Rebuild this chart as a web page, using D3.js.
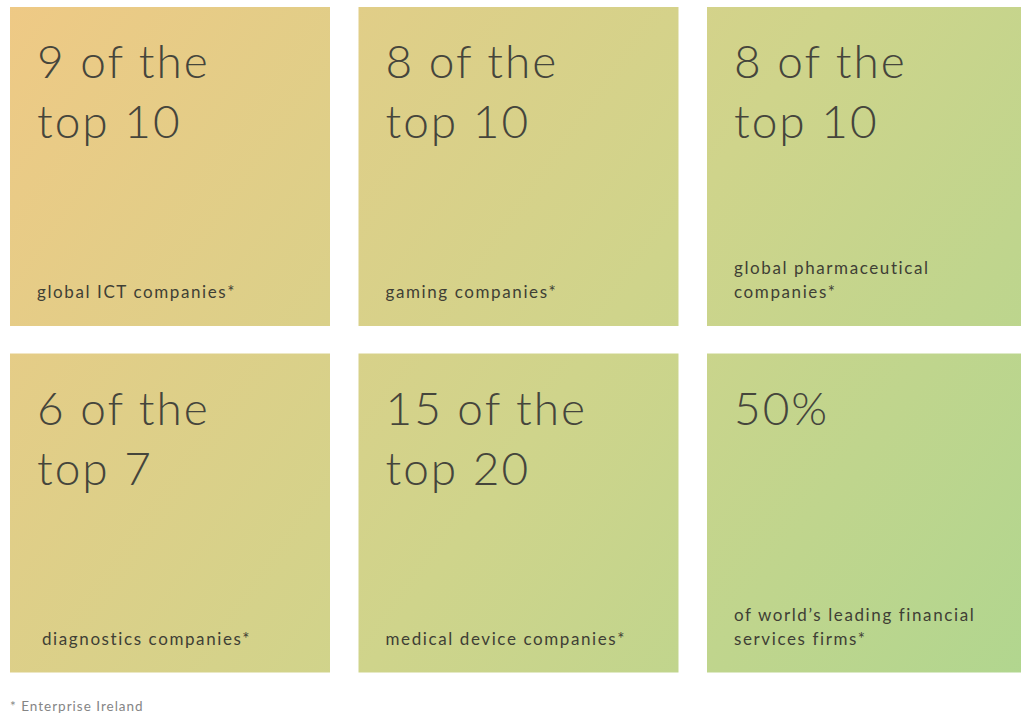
<html>
  <head>
    <script src="https://d3js.org/d3.v7.min.js"></script>
    <style>
      body { margin: 0; background: #ffffff; }
    </style>
  </head>
  <body>
    <div id="vis"></div>
    <script>
      // Tile data
      var headTop = ["9 of the", "8 of the", "8 of the", "6 of the", "15 of the", "50%"];
      var headBottom = ["top 10", "top 10", "top 10", "top 7", "top 20", ""];
      var labels = [
        ["global ICT companies*"],
        ["gaming companies*"],
        ["global pharmaceutical", "companies*"],
        ["diagnostics companies*"],
        ["medical device companies*"],
        ["of world\u2019s leading financial", "services firms*"]
      ];
      var footnote = "* Enterprise Ireland";

      var width = 1021;
      var height = 715;

      var svg = d3
        .select("#vis")
        .append("svg")
        .attr("width", width)
        .attr("height", height);

      // Background gradient running across the whole grid
      var grad = svg
        .append("defs")
        .append("linearGradient")
        .attr("id", "tileGrad")
        .attr("gradientUnits", "userSpaceOnUse")
        .attr("x1", 0)
        .attr("y1", 0)
        .attr("x2", 1021)
        .attr("y2", 715);
      grad.append("stop").attr("offset", "0%").attr("stop-color", "#efc985");
      grad.append("stop").attr("offset", "55%").attr("stop-color", "#cfd48b");
      grad.append("stop").attr("offset", "100%").attr("stop-color", "#b0d68f");

      // Grid scales
      var x = d3.scaleBand().domain([0, 1, 2]).range([10, 1027]).paddingInner(0.0818);
      var y = d3.scaleBand().domain([0, 1]).range([7, 672.5]).paddingInner(0.0794);

      var tiles = d3.range(headTop.length).map(function (i) {
        return {
          col: i % 3,
          row: Math.floor(i / 3),
          top: headTop[i],
          bottom: headBottom[i],
          label: labels[i]
        };
      });

      var g = svg
        .selectAll(".tile")
        .data(tiles)
        .enter()
        .append("g")
        .attr("class", "tile");

      g.append("rect")
        .attr("x", function (d) { return x(d.col); })
        .attr("y", function (d) { return y(d.row); })
        .attr("width", x.bandwidth())
        .attr("height", y.bandwidth())
        .attr("fill", "url(#tileGrad)");

      // Big headline lines
      g.append("text")
        .attr("x", function (d) { return x(d.col) + 27; })
        .attr("y", function (d) { return y(d.row) + 71; })
        .style("font-family", "Lato, sans-serif")
        .style("font-weight", 300)
        .style("font-size", "46px")
        .style("letter-spacing", "2px")
        .style("fill", "#45453c")
        .text(function (d) { return d.top; });

      g.append("text")
        .attr("x", function (d) { return x(d.col) + 27; })
        .attr("y", function (d) { return y(d.row) + 131; })
        .style("font-family", "Lato, sans-serif")
        .style("font-weight", 300)
        .style("font-size", "46px")
        .style("letter-spacing", "2px")
        .style("fill", "#45453c")
        .text(function (d) { return d.bottom; });

      // Small labels, anchored from the bottom
      g.each(function (d) {
        var n = d.label.length;
        d3.select(this)
          .selectAll(".lab")
          .data(d.label)
          .enter()
          .append("text")
          .attr("class", "lab")
          .attr("x", x(d.col) + 27 + (d.col == 0 && d.row == 1 ? 5 : 0))
          .attr("y", function (t, j) { return y(d.row) + 291 - (n - 1 - j) * 24; })
          .style("font-family", "Lato, sans-serif")
          .style("font-size", "17px")
          .style("letter-spacing", "1.6px")
          .style("fill", "#3f3f35")
          .text(function (t) { return t; });
      });

      svg
        .append("text")
        .attr("x", 10)
        .attr("y", 711)
        .style("font-family", "Lato, sans-serif")
        .style("font-size", "13.5px")
        .style("letter-spacing", "1px")
        .style("fill", "#858585")
        .text(footnote);
    </script>
  </body>
</html>
